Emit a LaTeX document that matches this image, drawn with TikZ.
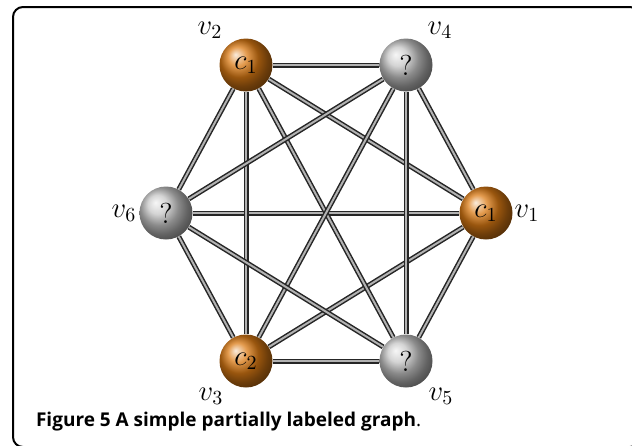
\documentclass[tikz,border=0pt]{standalone}
\usepackage{fontspec}
\newfontfamily\capfont{Open Sans}
\usetikzlibrary{positioning,backgrounds}
\definecolor{ballorange}{RGB}{218,122,20}

\begin{document}
\begin{tikzpicture}[
x=0.5pt,y=-0.5pt,
vertex/.style={
circle,
minimum size=26.5pt,
inner sep=0pt,
shading=ball,
font=\Large
},
known/.style={vertex,ball color=ballorange},
unknown/.style={vertex,ball color=gray!45},
edge/.style={
draw=black!85,
line width=0.75pt,
double=gray!60,
double distance=1pt
},
vname/.style={font=\Large},
frame/.style={draw,line width=1pt,rounded corners=5pt}
]

\clip (0,0) rectangle (632,445);

\draw[frame] (13,7) rectangle (640,447);

\node (v2)[known] at (246,65){$c_1$};
\node (v4)[unknown] at (406,65){?};
\node (v6)[unknown] at (166,213){?};
\node (v1)[known] at (486,213){$c_1$};
\node (v3)[known] at (246,361){$c_2$};
\node (v5)[unknown] at (406,361){?};

\node (l2)[vname] at (210,30){$v_2$};
\node (l4)[vname] at (440,30){$v_4$};
\node (l6)[vname] at (124,213){$v_6$};
\node (l1)[vname] at (527,213){$v_1$};
\node (l3)[vname] at (211,396){$v_3$};
\node (l5)[vname] at (441,396){$v_5$};

\begin{scope}[on background layer]
\draw[edge](v1)--(v2);
\draw[edge](v1)--(v3);
\draw[edge](v1)--(v4);
\draw[edge](v1)--(v5);
\draw[edge](v1)--(v6);
\draw[edge](v2)--(v3);
\draw[edge](v2)--(v4);
\draw[edge](v2)--(v5);
\draw[edge](v2)--(v6);
\draw[edge](v3)--(v4);
\draw[edge](v3)--(v5);
\draw[edge](v3)--(v6);
\draw[edge](v4)--(v5);
\draw[edge](v4)--(v6);
\draw[edge](v5)--(v6);
\end{scope}

\node (caption)[anchor=base west,font=\capfont\fontsize{9.5}{11}\selectfont\bfseries] at (29,426){Figure 5 A simple partially labeled graph{\mdseries .}};

\end{tikzpicture}
\end{document}
